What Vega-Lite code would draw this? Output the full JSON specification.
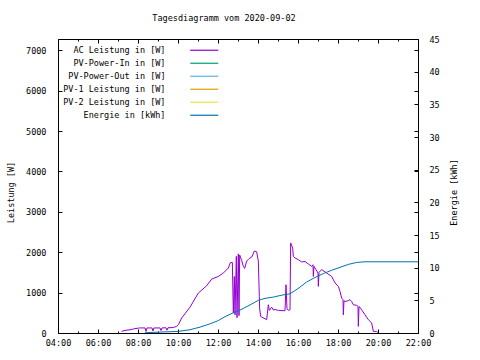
{
  "$schema": "https://vega.github.io/schema/vega-lite/v6.json",
  "width": 360,
  "height": 294,
  "autosize": {"type": "none"},
  "padding": {"left": 58, "top": 39, "right": 62, "bottom": 27},
  "background": "white",
  "config": {
    "view": {"stroke": null},
    "font": "DejaVu Sans Mono",
    "axis": {
      "labelFont": "DejaVu Sans Mono", "labelFontSize": 8.5, "labelColor": "black",
      "titleFont": "DejaVu Sans Mono", "titleFontSize": 8.5, "titleFontWeight": "normal", "titleColor": "black",
      "domainColor": "black", "domainWidth": 1, "tickColor": "black", "tickWidth": 1, "grid": false
    }
  },
  "title": {"text": "Tagesdiagramm vom 2020-09-02", "font": "DejaVu Sans Mono", "fontSize": 8.5, "fontWeight": "normal", "color": "black", "anchor": "middle", "dx": -14, "offset": 13},
  "datasets": {
    "ac": [
      {"t": "2020-09-02T07:11", "w": 40},
      {"t": "2020-09-02T07:21", "w": 65},
      {"t": "2020-09-02T07:36", "w": 80},
      {"t": "2020-09-02T07:46", "w": 100},
      {"t": "2020-09-02T08:04", "w": 125},
      {"t": "2020-09-02T08:21", "w": 125},
      {"t": "2020-09-02T08:24", "w": 40},
      {"t": "2020-09-02T08:27", "w": 125},
      {"t": "2020-09-02T08:42", "w": 125},
      {"t": "2020-09-02T08:45", "w": 50},
      {"t": "2020-09-02T08:48", "w": 125},
      {"t": "2020-09-02T09:06", "w": 125},
      {"t": "2020-09-02T09:09", "w": 60},
      {"t": "2020-09-02T09:12", "w": 125},
      {"t": "2020-09-02T09:24", "w": 130},
      {"t": "2020-09-02T09:27", "w": 70},
      {"t": "2020-09-02T09:30", "w": 130},
      {"t": "2020-09-02T09:46", "w": 135},
      {"t": "2020-09-02T09:56", "w": 165},
      {"t": "2020-09-02T10:01", "w": 205},
      {"t": "2020-09-02T10:11", "w": 370},
      {"t": "2020-09-02T10:36", "w": 640},
      {"t": "2020-09-02T11:01", "w": 990},
      {"t": "2020-09-02T11:26", "w": 1170},
      {"t": "2020-09-02T11:41", "w": 1335},
      {"t": "2020-09-02T12:01", "w": 1400},
      {"t": "2020-09-02T12:16", "w": 1485},
      {"t": "2020-09-02T12:31", "w": 1610},
      {"t": "2020-09-02T12:37", "w": 1740},
      {"t": "2020-09-02T12:43", "w": 1750},
      {"t": "2020-09-02T12:46", "w": 500},
      {"t": "2020-09-02T12:49", "w": 1400},
      {"t": "2020-09-02T12:51", "w": 450},
      {"t": "2020-09-02T12:55", "w": 1900},
      {"t": "2020-09-02T12:57", "w": 380},
      {"t": "2020-09-02T13:01", "w": 1960},
      {"t": "2020-09-02T13:03", "w": 430},
      {"t": "2020-09-02T13:05", "w": 1930},
      {"t": "2020-09-02T13:11", "w": 1800},
      {"t": "2020-09-02T13:16", "w": 1650},
      {"t": "2020-09-02T13:20", "w": 1600},
      {"t": "2020-09-02T13:26", "w": 1780},
      {"t": "2020-09-02T13:33", "w": 1840},
      {"t": "2020-09-02T13:42", "w": 1890},
      {"t": "2020-09-02T13:49", "w": 2030},
      {"t": "2020-09-02T13:56", "w": 2010},
      {"t": "2020-09-02T14:01", "w": 1780},
      {"t": "2020-09-02T14:04", "w": 900},
      {"t": "2020-09-02T14:05", "w": 600},
      {"t": "2020-09-02T14:08", "w": 410},
      {"t": "2020-09-02T14:26", "w": 330},
      {"t": "2020-09-02T14:31", "w": 700},
      {"t": "2020-09-02T14:34", "w": 560},
      {"t": "2020-09-02T14:41", "w": 640},
      {"t": "2020-09-02T14:46", "w": 570},
      {"t": "2020-09-02T14:51", "w": 580},
      {"t": "2020-09-02T15:01", "w": 560},
      {"t": "2020-09-02T15:21", "w": 550},
      {"t": "2020-09-02T15:24", "w": 1195},
      {"t": "2020-09-02T15:27", "w": 600},
      {"t": "2020-09-02T15:31", "w": 560},
      {"t": "2020-09-02T15:36", "w": 575},
      {"t": "2020-09-02T15:38", "w": 2230},
      {"t": "2020-09-02T15:44", "w": 2100},
      {"t": "2020-09-02T15:46", "w": 1900},
      {"t": "2020-09-02T15:51", "w": 1860},
      {"t": "2020-09-02T16:01", "w": 1815},
      {"t": "2020-09-02T16:11", "w": 1760},
      {"t": "2020-09-02T16:21", "w": 1770},
      {"t": "2020-09-02T16:31", "w": 1710},
      {"t": "2020-09-02T16:41", "w": 1650},
      {"t": "2020-09-02T16:45", "w": 1690},
      {"t": "2020-09-02T16:46", "w": 1400},
      {"t": "2020-09-02T16:48", "w": 1650},
      {"t": "2020-09-02T16:54", "w": 1570},
      {"t": "2020-09-02T17:00", "w": 1485},
      {"t": "2020-09-02T17:01", "w": 1155},
      {"t": "2020-09-02T17:03", "w": 1500},
      {"t": "2020-09-02T17:11", "w": 1570},
      {"t": "2020-09-02T17:26", "w": 1485},
      {"t": "2020-09-02T17:41", "w": 1400},
      {"t": "2020-09-02T17:51", "w": 1240},
      {"t": "2020-09-02T18:01", "w": 1155},
      {"t": "2020-09-02T18:06", "w": 1030},
      {"t": "2020-09-02T18:11", "w": 865},
      {"t": "2020-09-02T18:15", "w": 825},
      {"t": "2020-09-02T18:16", "w": 450},
      {"t": "2020-09-02T18:18", "w": 800},
      {"t": "2020-09-02T18:21", "w": 780},
      {"t": "2020-09-02T18:31", "w": 800},
      {"t": "2020-09-02T18:36", "w": 825},
      {"t": "2020-09-02T18:41", "w": 780},
      {"t": "2020-09-02T18:46", "w": 700},
      {"t": "2020-09-02T18:56", "w": 685},
      {"t": "2020-09-02T19:00", "w": 660},
      {"t": "2020-09-02T19:01", "w": 165},
      {"t": "2020-09-02T19:03", "w": 650},
      {"t": "2020-09-02T19:06", "w": 635},
      {"t": "2020-09-02T19:11", "w": 575},
      {"t": "2020-09-02T19:21", "w": 450},
      {"t": "2020-09-02T19:31", "w": 330},
      {"t": "2020-09-02T19:41", "w": 250},
      {"t": "2020-09-02T19:46", "w": 40},
      {"t": "2020-09-02T19:56", "w": 40},
      {"t": "2020-09-02T20:01", "w": 0}
    ],
    "en": [
      {"t": "2020-09-02T08:21", "kwh": 0.05},
      {"t": "2020-09-02T10:01", "kwh": 0.25},
      {"t": "2020-09-02T10:36", "kwh": 0.5},
      {"t": "2020-09-02T11:06", "kwh": 0.9},
      {"t": "2020-09-02T11:36", "kwh": 1.4},
      {"t": "2020-09-02T12:01", "kwh": 1.9},
      {"t": "2020-09-02T12:21", "kwh": 2.5},
      {"t": "2020-09-02T12:46", "kwh": 3.1},
      {"t": "2020-09-02T13:06", "kwh": 3.5},
      {"t": "2020-09-02T13:36", "kwh": 4.3},
      {"t": "2020-09-02T14:01", "kwh": 5.0},
      {"t": "2020-09-02T14:21", "kwh": 5.3},
      {"t": "2020-09-02T14:46", "kwh": 5.5},
      {"t": "2020-09-02T15:12", "kwh": 5.8},
      {"t": "2020-09-02T15:36", "kwh": 6.0},
      {"t": "2020-09-02T16:00", "kwh": 6.8},
      {"t": "2020-09-02T16:26", "kwh": 7.8},
      {"t": "2020-09-02T16:51", "kwh": 8.5},
      {"t": "2020-09-02T17:16", "kwh": 9.1},
      {"t": "2020-09-02T17:41", "kwh": 9.6},
      {"t": "2020-09-02T18:06", "kwh": 10.05},
      {"t": "2020-09-02T18:31", "kwh": 10.5},
      {"t": "2020-09-02T18:56", "kwh": 10.8},
      {"t": "2020-09-02T19:21", "kwh": 10.9},
      {"t": "2020-09-02T22:00", "kwh": 10.9}
    ]
  },
  "layer": [
    {
      "data": {"name": "ac"},
      "mark": {"type": "line", "strokeWidth": 1},
      "encoding": {
        "x": {"field": "t", "type": "temporal",
          "scale": {"domain": [{"year": 2020, "month": 9, "date": 2, "hours": 4}, {"year": 2020, "month": 9, "date": 2, "hours": 22}]},
          "axis": {"orient": "bottom", "title": null, "format": "%H:%M", "tickSize": -4, "labelPadding": 9, "labelFlush": false, "labelOverlap": false,
            "values": [
              {"year": 2020, "month": 9, "date": 2, "hours": 4}, {"year": 2020, "month": 9, "date": 2, "hours": 6},
              {"year": 2020, "month": 9, "date": 2, "hours": 8}, {"year": 2020, "month": 9, "date": 2, "hours": 10},
              {"year": 2020, "month": 9, "date": 2, "hours": 12}, {"year": 2020, "month": 9, "date": 2, "hours": 14},
              {"year": 2020, "month": 9, "date": 2, "hours": 16}, {"year": 2020, "month": 9, "date": 2, "hours": 18},
              {"year": 2020, "month": 9, "date": 2, "hours": 20}, {"year": 2020, "month": 9, "date": 2, "hours": 22}]}},
        "y": {"field": "w", "type": "quantitative",
          "scale": {"domain": [0, 7280], "nice": false},
          "axis": {"orient": "left", "title": "Leistung [W]", "titleX": -48, "titleY": 153, "titleAngle": -90, "titleAlign": "center", "titleBaseline": "middle",
            "values": [0, 1000, 2000, 3000, 4000, 5000, 6000, 7000], "format": "d", "tickSize": -4, "labelPadding": 16, "labelOverlap": false}},
        "color": {"datum": "AC Leistung in [W]", "type": "nominal",
          "scale": {"domain": ["AC Leistung in [W]", "PV-Power-In in [W]", "PV-Power-Out in [W]", "PV-1 Leistung in [W]", "PV-2 Leistung in [W]", "Energie in [kWh]"],
            "range": ["#9400d3", "#009e73", "#56b4e9", "#e69f00", "#f0e442", "#0072b2"]},
          "legend": {"orient": "none", "legendX": 0, "legendY": 7, "title": null, "symbolType": "M-7,0L7,0", "symbolSize": 16, "symbolStrokeWidth": 1.2,
            "labelAlign": "right", "labelOffset": -43, "symbolOffset": 142, "rowPadding": 4, "padding": 0,
            "labelFont": "DejaVu Sans Mono", "labelFontSize": 8.5, "labelColor": "black", "labelLimit": 300}}
      }
    },
    {
      "data": {"name": "en"},
      "mark": {"type": "line", "strokeWidth": 1},
      "encoding": {
        "x": {"field": "t", "type": "temporal",
          "scale": {"domain": [{"year": 2020, "month": 9, "date": 2, "hours": 4}, {"year": 2020, "month": 9, "date": 2, "hours": 22}]},
          "axis": {"orient": "top", "title": null, "labels": false, "tickSize": -4,
            "values": [
              {"year": 2020, "month": 9, "date": 2, "hours": 4}, {"year": 2020, "month": 9, "date": 2, "hours": 6},
              {"year": 2020, "month": 9, "date": 2, "hours": 8}, {"year": 2020, "month": 9, "date": 2, "hours": 10},
              {"year": 2020, "month": 9, "date": 2, "hours": 12}, {"year": 2020, "month": 9, "date": 2, "hours": 14},
              {"year": 2020, "month": 9, "date": 2, "hours": 16}, {"year": 2020, "month": 9, "date": 2, "hours": 18},
              {"year": 2020, "month": 9, "date": 2, "hours": 20}, {"year": 2020, "month": 9, "date": 2, "hours": 22}]}},
        "y": {"field": "kwh", "type": "quantitative",
          "scale": {"domain": [0, 45], "nice": false},
          "axis": {"orient": "right", "title": "Energie [kWh]", "titleX": 35, "titleY": 153, "titleAngle": -90, "titleAlign": "center", "titleBaseline": "middle",
            "values": [0, 5, 10, 15, 20, 25, 30, 35, 40, 45], "tickSize": -4, "labelPadding": 15, "labelOverlap": false}},
        "color": {"datum": "Energie in [kWh]", "type": "nominal"}
      }
    },
    {
      "data": {"name": "ac"},
      "mark": {"type": "line", "strokeOpacity": 0},
      "encoding": {
        "x": {"field": "t", "type": "temporal",
          "scale": {"domain": [{"year": 2020, "month": 9, "date": 2, "hours": 4}, {"year": 2020, "month": 9, "date": 2, "hours": 22}]},
          "axis": {"orient": "bottom", "title": null, "labels": false, "domain": false, "tickSize": -2,
            "values": [
              {"year": 2020, "month": 9, "date": 2, "hours": 5}, {"year": 2020, "month": 9, "date": 2, "hours": 7},
              {"year": 2020, "month": 9, "date": 2, "hours": 9}, {"year": 2020, "month": 9, "date": 2, "hours": 11},
              {"year": 2020, "month": 9, "date": 2, "hours": 13}, {"year": 2020, "month": 9, "date": 2, "hours": 15},
              {"year": 2020, "month": 9, "date": 2, "hours": 17}, {"year": 2020, "month": 9, "date": 2, "hours": 19},
              {"year": 2020, "month": 9, "date": 2, "hours": 21}]}},
        "y": {"field": "w", "type": "quantitative",
          "scale": {"domain": [0, 7280], "nice": false},
          "axis": {"orient": "right", "title": null, "labels": false, "domain": false, "tickSize": -4,
            "values": [0, 1000, 2000, 3000, 4000, 5000, 6000, 7000]}}
      }
    },
    {
      "data": {"name": "ac"},
      "mark": {"type": "line", "strokeOpacity": 0},
      "encoding": {
        "x": {"field": "t", "type": "temporal",
          "scale": {"domain": [{"year": 2020, "month": 9, "date": 2, "hours": 4}, {"year": 2020, "month": 9, "date": 2, "hours": 22}]},
          "axis": {"orient": "top", "title": null, "labels": false, "domain": false, "tickSize": -2,
            "values": [
              {"year": 2020, "month": 9, "date": 2, "hours": 5}, {"year": 2020, "month": 9, "date": 2, "hours": 7},
              {"year": 2020, "month": 9, "date": 2, "hours": 9}, {"year": 2020, "month": 9, "date": 2, "hours": 11},
              {"year": 2020, "month": 9, "date": 2, "hours": 13}, {"year": 2020, "month": 9, "date": 2, "hours": 15},
              {"year": 2020, "month": 9, "date": 2, "hours": 17}, {"year": 2020, "month": 9, "date": 2, "hours": 19},
              {"year": 2020, "month": 9, "date": 2, "hours": 21}]}},
        "y": {"field": "w", "type": "quantitative", "scale": {"domain": [0, 7280], "nice": false}, "axis": null}
      }
    }
  ],
  "resolve": {"scale": {"y": "independent"}, "axis": {"x": "independent", "y": "independent"}}
}
